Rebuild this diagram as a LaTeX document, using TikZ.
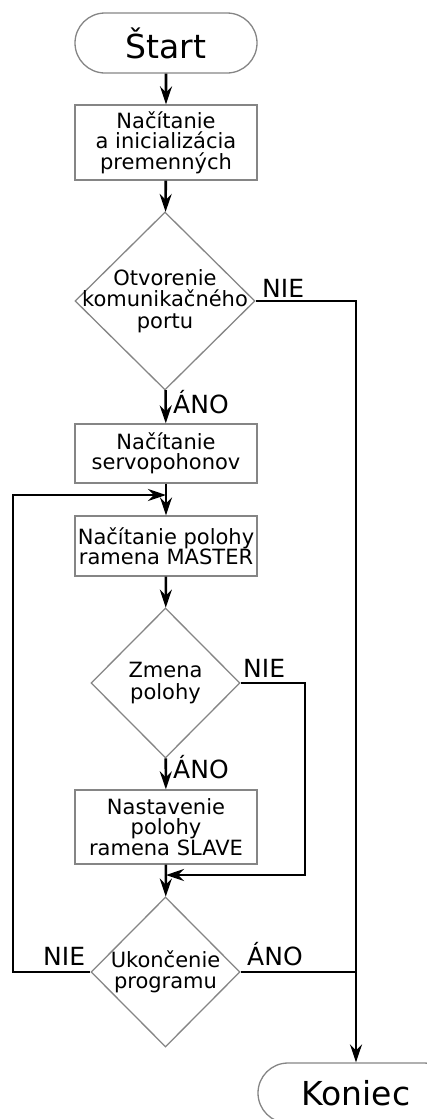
\documentclass[tikz,border=0pt]{standalone}
\usepackage{fontspec}
\setmainfont{DejaVu Sans}
\usepackage{tikz}
\usetikzlibrary{arrows.meta,shapes.geometric,shapes.misc}
\definecolor{frame}{HTML}{858585}
\tikzset{
  terminal/.style={rounded rectangle, draw=frame, line width=1.3pt, minimum height=60pt,
                   inner sep=0pt, font=\fontsize{33}{36}\selectfont},
  process/.style={rectangle, draw=frame, line width=1.3pt, minimum width=182pt,
                  inner sep=0pt, align=center, font=\fontsize{21}{20.5}\selectfont},
  decision/.style={diamond, draw=frame, line width=1.3pt, inner sep=0pt},
  dtext/.style={align=center, inner sep=0pt, font=\fontsize{21}{21.5}\selectfont},
  answer/.style={anchor=base west, inner sep=0pt, font=\fontsize{25}{25}\selectfont},
  flow/.style={-{Stealth[length=18pt,width=12pt,inset=6pt]}, line width=2.6pt},
  link/.style={line width=2.6pt}
}
\begin{document}
\begin{tikzpicture}[x=1pt,y=-1pt]
\clip (0,0) rectangle (427,1119);
% nodes
\node[terminal, minimum width=182pt] (start) at (166,43) {Štart};
\node[process, minimum height=75pt] (init) at (166,142.5) {Načítanie\\a inicializácia\\premenných};
\node[decision, minimum width=180pt, minimum height=178pt,
      label={[dtext]center:Otvorenie\\komunikačného\\portu}] (port) at (165,301) {};
\node[process, minimum height=59pt] (servo) at (166,453.5) {Načítanie\\servopohonov};
\node[process, minimum height=60pt] (master) at (166,546) {Načítanie polohy\\ramena MASTER};
\node[decision, minimum width=149pt, minimum height=150pt,
      label={[dtext]center:Zmena\\polohy}] (change) at (165.5,683) {};
\node[process, minimum height=74pt] (slave) at (166,827) {Nastavenie\\polohy\\ramena SLAVE};
\node[decision, minimum width=149pt, minimum height=150pt,
      label={[dtext]center:Ukončenie\\programu}] (quit) at (165.5,972) {};
\node[terminal, minimum width=196pt] (koniec) at (356,1093) {Koniec};
% answers
\node[answer] (nie1) at (262,297) {NIE};
\node[answer] (ano1) at (173,413) {ÁNO};
\node[answer] (nie2) at (243,677) {NIE};
\node[answer] (ano2) at (173,778) {ÁNO};
\node[answer] (nie3) at (43,965) {NIE};
\node[answer] (ano3) at (247,965) {ÁNO};
% helper points
\coordinate (loopin) at (166,495);
\coordinate (loopx) at (13,972);
\coordinate (skipx) at (305,683);
\coordinate (skipin) at (166,875);
% main flow
\draw[flow] (start) -- (init);
\draw[flow] (init) -- (port);
\draw[flow] (port) -- (servo);
\draw[flow] (servo) -- (master);
\draw[flow] (master) -- (change);
\draw[flow] (change) -- (slave);
\draw[flow] (slave) -- (quit);
% branches
\draw[flow] (port.east) -| (koniec.north);
\draw[link] (quit.east) -- (koniec.north |- quit.east);
\draw[flow] (change.east) -- (skipx) |- (skipin);
\draw[flow] (quit.west) -- (loopx) |- (loopin);
\end{tikzpicture}
\end{document}
